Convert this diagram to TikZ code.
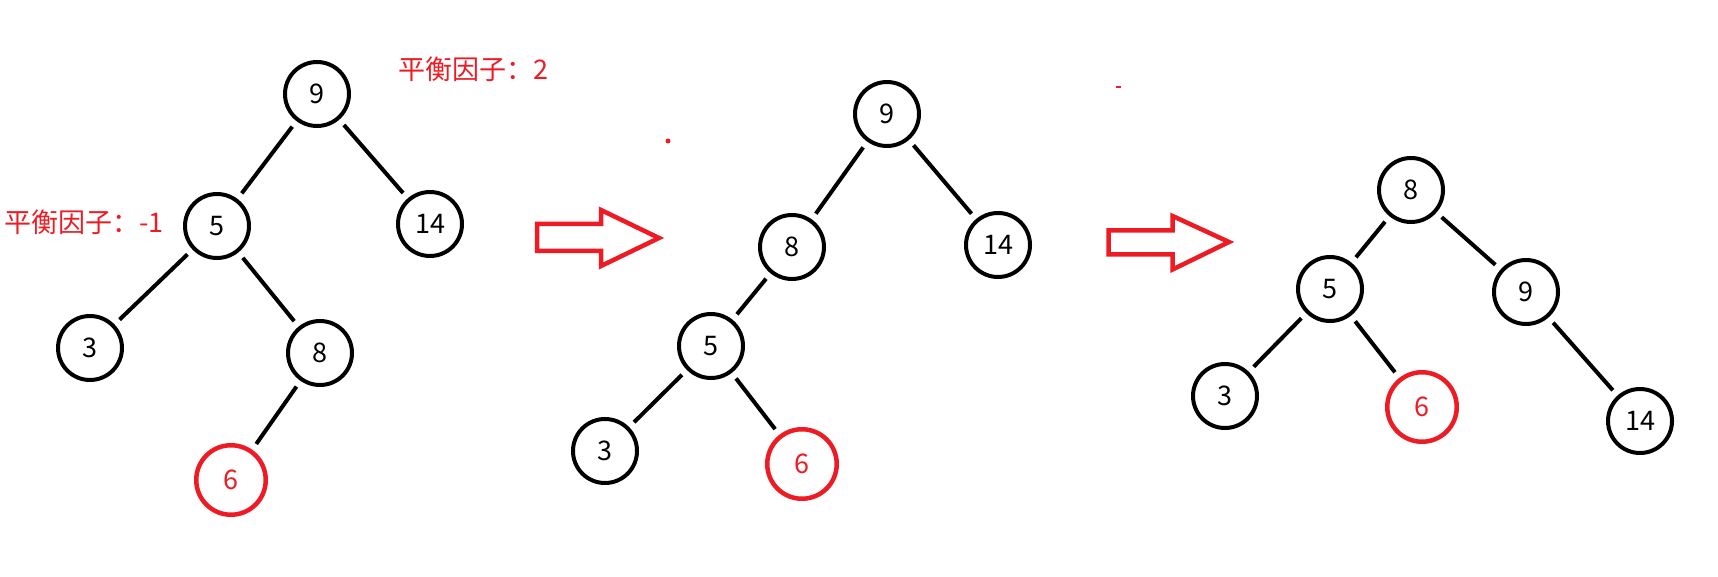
\documentclass[tikz,border=0pt]{standalone}
\usepackage{fontspec}
\setmainfont{Noto Sans CJK SC}
\usetikzlibrary{shapes.geometric}
\definecolor{pred}{RGB}{237,28,36}
\begin{document}
\begin{tikzpicture}[x=1pt,y=-1pt,
  tnode/.style={circle, draw=black, line width=4pt, minimum size=64pt, inner sep=0pt, font=\fontsize{27}{27}\selectfont},
  rnode/.style={tnode, draw=pred, text=pred, line width=4.5pt, minimum size=69.5pt},
  tedge/.style={line width=4pt, shorten <=7pt, shorten >=7pt},
  flabel/.style={anchor=west, inner sep=0pt, text=pred, font=\fontsize{27}{27}\selectfont},
  bigarrow/.style={draw=pred, line width=4.5pt, line join=miter}]
\useasboundingbox (0,0) rectangle (1718,577);
% left tree
\node[tnode] (a9) at (317,94) {9};
\node[tnode] (a5) at (217,226) {5};
\node[tnode] (a14) at (430,224) {14};
\node[tnode] (a3) at (90,348) {3};
\node[tnode] (a8) at (320,353) {8};
\node[rnode] (a6) at (231,480) {6};
\draw[tedge] (a9) -- (a5);
\draw[tedge] (a9) -- (a14);
\draw[tedge] (a5) -- (a3);
\draw[tedge] (a5) -- (a8);
\draw[tedge] (a8) -- (a6);
\node[flabel] (la) at (4,222) {平衡因子：-1};
\node[flabel] (lb) at (398,69) {平衡因子：2};
% arrow 1
\draw[bigarrow] (537,224) -- (601,224) -- (601,210) -- (659,238) -- (601,266) -- (601,251) -- (537,251) -- cycle;
% middle tree
\node[tnode] (b9) at (887,114) {9};
\node[tnode] (b8) at (792,247) {8};
\node[tnode] (b14) at (998,245) {14};
\node[tnode] (b5) at (711,346) {5};
\node[tnode] (b3) at (605,451) {3};
\node[rnode] (b6) at (802,464) {6};
\draw[tedge] (b9) -- (b8);
\draw[tedge] (b9) -- (b14);
\draw[tedge] (b8) -- (b5);
\draw[tedge] (b5) -- (b3);
\draw[tedge] (b5) -- (b6);
% arrow 2
\draw[bigarrow] (1108.5,230.5) -- (1172.5,230.5) -- (1172.5,216) -- (1229,242) -- (1172.5,269.5) -- (1172.5,254.5) -- (1108.5,254.5) -- cycle;
% right tree
\node[tnode] (c8) at (1411,190) {8};
\node[tnode] (c5) at (1330,289) {5};
\node[tnode] (c9) at (1526,292) {9};
\node[tnode] (c3) at (1225,396) {3};
\node[rnode] (c6) at (1422,407) {6};
\node[tnode] (c14) at (1640,421) {14};
\draw[tedge] (c8) -- (c5);
\draw[tedge] (c8) -- (c9);
\draw[tedge] (c5) -- (c3);
\draw[tedge] (c5) -- (c6);
\draw[tedge] (c9) -- (c14);
% stray marks
\fill[pred] (668,141) circle (2.5);
\fill[pred] (1116,86.5) rectangle (1121,88.5);
\end{tikzpicture}
\end{document}
